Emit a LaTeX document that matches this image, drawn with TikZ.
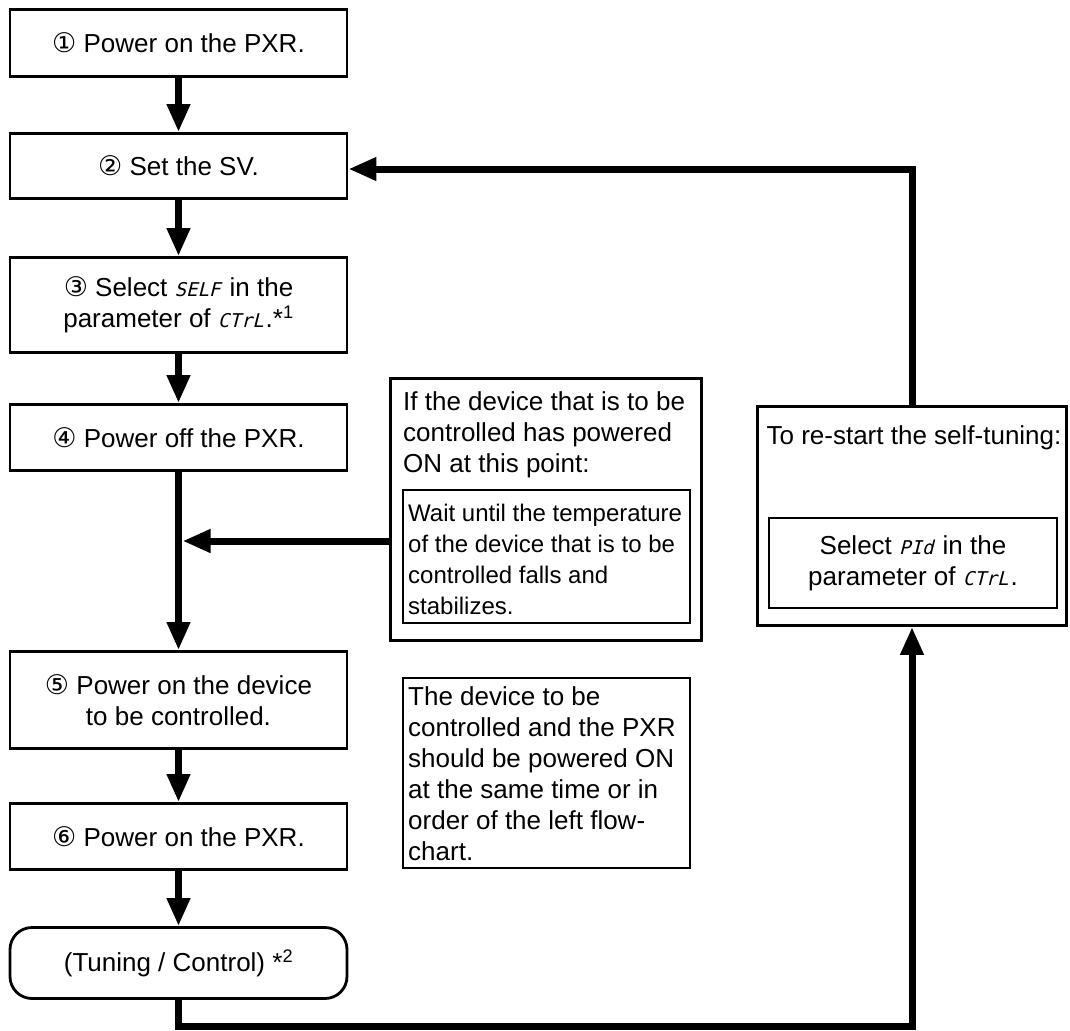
\documentclass[tikz,border=0pt]{standalone}
\usepackage{fontspec}
\setmainfont{Liberation Sans}
\newfontfamily\circfont{DejaVu Sans}
\newfontfamily\segfont{DejaVu Sans Mono}[FakeSlant=0.25]
\usetikzlibrary{arrows.meta}
\newcommand{\cnum}[1]{{\circfont\fontsize{27}{31}\selectfont #1}}
\newcommand{\segtxt}[1]{{\segfont\fontsize{19}{19}\selectfont #1}\kern2pt\relax}
\begin{document}
\begin{tikzpicture}[x=1pt,y=-1pt,
  every node/.style={font=\fontsize{26}{31}\selectfont, inner sep=0pt},
  stepbox/.style={draw, line width=2.8pt, minimum width=337pt, align=center},
  framebox/.style={draw, line width=2.8pt},
  innerbox/.style={draw, line width=2.2pt},
  smalltext/.style={font=\fontsize{24}{31}\selectfont},
  flow/.style={line width=7pt, -{Triangle[length=28pt,width=22pt]}}
]
\useasboundingbox (0,0) rectangle (1070,1030);
% main steps
\node[stepbox, minimum height=67pt] (s1) at (178.5,43) {\cnum{①} Power on the PXR.};
\node[stepbox, minimum height=65pt] (s2) at (178.5,166) {\cnum{②} Set the SV.};
\node[stepbox, minimum height=95pt] (s3) at (178.5,305) {\cnum{③} Select \segtxt{SELF} in the\\parameter of \segtxt{CTrL}.*\textsuperscript{1}};
\node[stepbox, minimum height=66pt] (s4) at (178.5,437.5) {\cnum{④} Power off the PXR.};
\node[stepbox, minimum height=97pt] (s5) at (178.5,700) {\cnum{⑤} Power on the device\\to be controlled.};
\node[stepbox, minimum height=66pt] (s6) at (178.5,836.5) {\cnum{⑥} Power on the PXR.};
\node[stepbox, rounded corners=22pt, minimum height=71pt] (s7) at (178.5,963) {(Tuning / Control) *\textsuperscript{2}};
% condition box
\node[framebox, minimum width=311pt, minimum height=262pt] (cond) at (546,509.5) {};
\node[anchor=north west, align=left] (condtxt) at (403,391) {If the device that is to be\\controlled has powered\\ON at this point:};
\node[innerbox, minimum width=287pt, minimum height=133pt] (wait) at (546.5,556.5) {};
\node[anchor=north west, align=left, smalltext] (waittxt) at (408,503.5) {Wait until the temperature\\of the device that is to be\\controlled falls and\\stabilizes.};
% note box
\node[innerbox, minimum width=287pt, minimum height=190pt] (note) at (546.5,773) {};
\node[anchor=north west, align=left] (notetxt) at (408,686) {The device to be\\controlled and the PXR\\should be powered ON\\at the same time or in\\order of the left flow-\\chart.};
% restart box
\node[framebox, minimum width=309pt, minimum height=219pt] (rbox) at (912,516) {};
\node[anchor=base] (rtitle) at (914,444) {To re-start the self-tuning:};
\node[innerbox, minimum width=288pt, minimum height=90pt, align=center] (rinner) at (913,563) {Select \segtxt{PId} in the\\parameter of \segtxt{CTrL}.};
% connectors
\coordinate (join) at (182.5,541);
\coordinate (lowy) at (0,1026.5);
\draw[flow] (s1) -- (s2);
\draw[flow] (s2) -- (s3);
\draw[flow] (s3) -- (s4);
\draw[flow] (s4) -- (s5);
\draw[flow] (s5) -- (s6);
\draw[flow] (s6) -- (s7);
\draw[flow] (cond.west |- join) -- (join);
\draw[flow] (s7.south) -- (s7.south |- lowy) -| (rbox.south);
\draw[flow] (rbox.north) |- ([yshift=-3pt]s2.east);
\end{tikzpicture}
\end{document}
